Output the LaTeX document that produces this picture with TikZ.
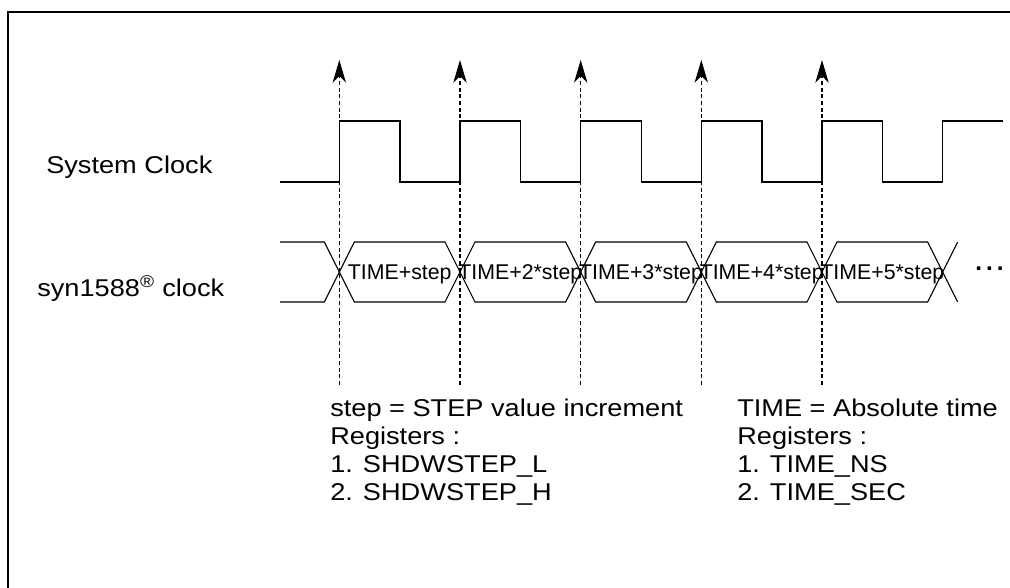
\documentclass[tikz,border=0pt]{standalone}
\usepackage{fontspec}
\setmainfont{Liberation Sans}
\usepackage{tikz}
\usetikzlibrary{arrows.meta,positioning}

% text drawn a little wider than the font, as in the original figure
\newcommand{\widetext}[1]{\scalebox{1.12}[1]{#1}}

\begin{document}
\begin{tikzpicture}[x=0.75pt, y=-0.75pt, >={Stealth[length=17pt,width=10pt,inset=5pt]}]

    \tikzstyle{frame} = [line width=1.5pt]
    \tikzstyle{clk}   = [line width=1.1pt, line join=miter]
    \tikzstyle{bus}   = [line width=0.8pt]
    \tikzstyle{tick}  = [->, line width=0.8pt, dash pattern=on 3pt off 2pt]
    \tikzstyle{lbl}   = [inner sep=0pt, anchor=base west, font=\fontsize{18.2}{21}\selectfont]
    \tikzstyle{val}   = [inner sep=0pt, anchor=base, font=\fontsize{16}{19}\selectfont]

    \useasboundingbox (0,0) rectangle (1010,588);
    \draw[frame] (8,600) -- (8,12) -- (1020,12);

    % signal names
    \node (sysclk) [lbl] at (46,174)  {\widetext{System Clock}};
    \node (synclk) [lbl] at (37,296)  {\widetext{syn1588\textsuperscript{\textregistered} clock}};

    % system clock
    \draw[clk] (280,182) -- (339.3,182) -- (339.3,121) -- (400,121) -- (400,182)
               -- (460,182) -- (460,121) -- (520.7,121) -- (520.7,182)
               -- (580.7,182) -- (580.7,121) -- (641.3,121) -- (641.3,182)
               -- (701.3,182) -- (701.3,121) -- (762,121) -- (762,182)
               -- (822,182) -- (822,121) -- (882.7,121) -- (882.7,182)
               -- (942.7,182) -- (942.7,121) -- (1003,121);

    % syn1588 clock
    \draw[bus] (280,242) -- (324.3,242) -- (354.3,302) -- (445,302) -- (475,242)
               -- (565.7,242) -- (595.7,302) -- (686.3,302) -- (716.3,242)
               -- (807,242) -- (837,302) -- (927.7,302) -- (957.7,242);
    \draw[bus] (280,302) -- (324.3,302) -- (354.3,242) -- (445,242) -- (475,302)
               -- (565.7,302) -- (595.7,242) -- (686.3,242) -- (716.3,302)
               -- (807,302) -- (837,242) -- (927.7,242) -- (957.7,302);

    \node (val1) [val] at (399.7,279) {TIME+step};
    \node (val2) [val] at (520.3,279) {TIME+2*step};
    \node (val3) [val] at (641,279)   {TIME+3*step};
    \node (val4) [val] at (761.7,279) {TIME+4*step};
    \node (val5) [val] at (882.3,279) {TIME+5*step};
    \node (more) [lbl] at (975,270)   {\textbf{.\hspace{3pt}.\hspace{3pt}.}};

    % rising edges
    \coordinate (low1) at (339.3,385);  \coordinate (top1) at (339.3,60);
    \coordinate (low2) at (460,385);    \coordinate (top2) at (460,60);
    \coordinate (low3) at (580.7,385);  \coordinate (top3) at (580.7,60);
    \coordinate (low4) at (701.3,385);  \coordinate (top4) at (701.3,60);
    \coordinate (low5) at (822,385);    \coordinate (top5) at (822,60);

    \draw[tick] (low1) -- (top1);
    \draw[tick] (low2) -- (top2);
    \draw[tick] (low3) -- (top3);
    \draw[tick] (low4) -- (top4);
    \draw[tick] (low5) -- (top5);

    % notes
    \node (stepnote) [lbl] at (330,416) {\widetext{\begin{tabular}[t]{@{}l@{}}
        step = STEP value increment\\ Registers :\\ 1. SHDWSTEP\_L\\ 2. SHDWSTEP\_H\end{tabular}}};
    \node (timenote) [lbl] at (737,416) {\widetext{\begin{tabular}[t]{@{}l@{}}
        TIME = Absolute time\\ Registers :\\ 1. TIME\_NS\\ 2. TIME\_SEC\end{tabular}}};
\end{tikzpicture}
\end{document}
